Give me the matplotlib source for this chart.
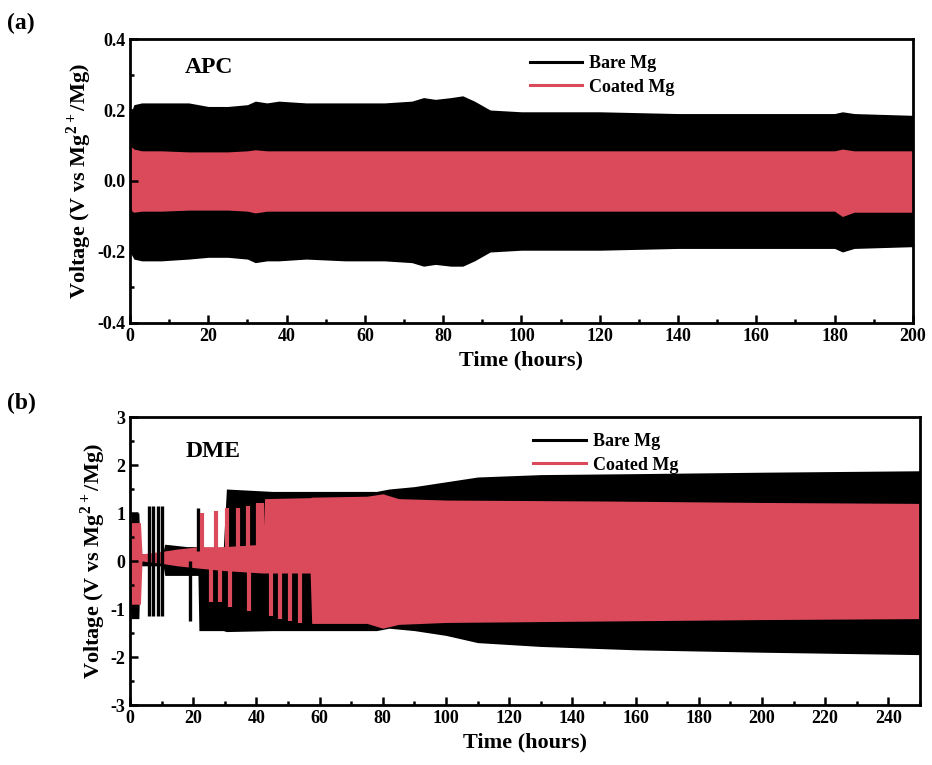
import numpy as np
import matplotlib.pyplot as plt
from matplotlib.lines import Line2D
from matplotlib.ticker import MultipleLocator, FormatStrFormatter

plt.rcParams['font.family'] = ['Liberation Serif', 'DejaVu Serif']
plt.rcParams['font.weight'] = 'bold'
plt.rcParams['mathtext.fontset'] = 'custom'
plt.rcParams['mathtext.rm'] = 'Liberation Serif:bold'
plt.rcParams['mathtext.bf'] = 'Liberation Serif:bold'
plt.rcParams['axes.unicode_minus'] = False

BLACK = '#000000'
RED = '#DB4A5B'

# (a) APC : envelopes of the cycling curves
a_t = [0, 0.5, 1, 3, 8, 15, 20, 25, 30, 32, 35, 38, 45, 55, 65, 72, 75, 78, 82, 85, 88, 92, 100, 120, 140, 160, 180, 182, 185, 200]
a_bare_hi = [0.19, 0.20, 0.215, 0.22, 0.22, 0.22, 0.21, 0.21, 0.215, 0.225, 0.22, 0.225, 0.22, 0.22, 0.22,
             0.225, 0.235, 0.23, 0.235, 0.24, 0.225, 0.20, 0.195, 0.195, 0.19, 0.19, 0.19, 0.195, 0.19, 0.185]
a_bare_lo = [-0.20, -0.21, -0.22, -0.225, -0.225, -0.22, -0.215, -0.215, -0.22, -0.23, -0.225, -0.225, -0.22, -0.225, -0.225,
             -0.23, -0.24, -0.235, -0.24, -0.24, -0.225, -0.20, -0.195, -0.195, -0.19, -0.19, -0.19, -0.20, -0.19, -0.185]
a_coat_hi = [0.125, 0.095, 0.09, 0.085, 0.085, 0.082, 0.082, 0.082, 0.085, 0.088, 0.085, 0.085, 0.085, 0.085, 0.085,
             0.085, 0.085, 0.085, 0.085, 0.085, 0.085, 0.085, 0.085, 0.085, 0.085, 0.085, 0.085, 0.09, 0.085, 0.085]
a_coat_lo = [-0.07, -0.085, -0.088, -0.085, -0.085, -0.082, -0.082, -0.082, -0.085, -0.09, -0.085, -0.085, -0.085, -0.085, -0.085,
             -0.085, -0.085, -0.085, -0.085, -0.085, -0.085, -0.085, -0.085, -0.085, -0.085, -0.085, -0.085, -0.10, -0.088, -0.088]

# (b) DME : envelopes
b_t_bare = [0, 0.3, 2.8, 3.2, 5.5, 10.5, 11, 18, 21.5, 21.8, 29.5, 30.5, 45, 60, 78, 82, 90, 100, 110, 130, 160, 200, 250]
b_bare_hi = [0.0, 1.0, 1.0, 0.15, 0.15, 0.2, 0.35, 0.3, 0.3, 0.25, 0.25, 1.5, 1.45, 1.45, 1.45, 1.5, 1.55, 1.65, 1.75, 1.8, 1.82, 1.85, 1.88]
b_bare_lo = [0.0, -1.2, -1.2, -0.1, -0.1, -0.1, -0.3, -0.3, -0.3, -1.45, -1.45, -1.47, -1.45, -1.45, -1.45,
             -1.4, -1.45, -1.55, -1.7, -1.78, -1.85, -1.9, -1.95]
b_t_coat = [0, 0.2, 3.3, 3.8, 10, 15, 22, 30, 42, 42.6, 57, 57.5, 75, 80, 85, 100, 150, 200, 250]
b_coat_hi = [0.0, 0.8, 0.8, 0.15, 0.2, 0.25, 0.3, 0.3, 0.35, 1.3, 1.32, 1.33, 1.35, 1.4, 1.3, 1.27, 1.25, 1.22, 1.2]
b_coat_lo = [0.0, -0.9, -0.9, 0.0, -0.05, -0.1, -0.15, -0.2, -0.25, -0.25, -0.25, -1.3, -1.3, -1.4, -1.32, -1.28, -1.25, -1.22, -1.2]

# isolated excursions in the first hours of (b)
bare_spike_t = [6.0, 7.2, 8.8, 10.0, 19.0, 21.6]
bare_spike_lo = [-1.15, -1.15, -1.15, -1.15, -1.25, 0.2]
bare_spike_hi = [1.15, 1.15, 1.15, 1.15, 0.0, 1.1]
coat_spike_t = [22.7, 27.2, 30.6, 34.3, 37.4, 40.6, 41.7, 25.5, 28.5, 31.6, 37.7, 44.5, 47.5, 50.5, 53.8]
coat_spike_lo = [0, 0, 0, 0, 0, 0, 0, -0.85, -0.85, -0.95, -1.05, -1.15, -1.2, -1.25, -1.3]
coat_spike_hi = [1.0, 1.05, 1.1, 1.1, 1.15, 1.2, 1.2, 0, 0, 0, 0, 0, 0, 0, 0]

fig = plt.figure(figsize=(9.32, 7.65), dpi=100)
ax1 = fig.add_axes([0.1395, 0.5778, 0.840, 0.3712])
ax2 = fig.add_axes([0.1395, 0.0784, 0.8476, 0.3765])

ax1.fill_between(a_t, a_bare_lo, a_bare_hi, color=BLACK, lw=0)
ax1.fill_between(a_t, a_coat_lo, a_coat_hi, color=RED, lw=0)

ax2.fill_between(b_t_bare, b_bare_lo, b_bare_hi, color=BLACK, lw=0)
ax2.vlines(bare_spike_t, bare_spike_lo, bare_spike_hi, color=BLACK, lw=2.4)
ax2.fill_between(b_t_coat, b_coat_lo, b_coat_hi, color=RED, lw=0)
ax2.vlines(coat_spike_t, coat_spike_lo, coat_spike_hi, color=RED, lw=3.0)

ax1.set_xlim(0, 200)
ax1.set_ylim(-0.4, 0.4)
ax1.xaxis.set_major_locator(MultipleLocator(20))
ax1.xaxis.set_minor_locator(MultipleLocator(10))
ax1.yaxis.set_major_locator(MultipleLocator(0.2))
ax1.yaxis.set_minor_locator(MultipleLocator(0.1))
ax1.yaxis.set_major_formatter(FormatStrFormatter('%.1f'))

ax2.set_xlim(0, 250)
ax2.set_ylim(-3, 3)
ax2.xaxis.set_major_locator(MultipleLocator(20))
ax2.xaxis.set_minor_locator(MultipleLocator(10))
ax2.yaxis.set_major_locator(MultipleLocator(1))
ax2.yaxis.set_minor_locator(MultipleLocator(0.5))

for ax in (ax1, ax2):
    for s in ax.spines.values():
        s.set_linewidth(2.0)
    ax.tick_params(which='both', direction='in', top=False, right=False, width=1.8, labelsize=13)
    ax.tick_params(which='major', length=6)
    ax.tick_params(which='minor', length=3)
    ax.set_xlabel('Time (hours)', fontsize=16, fontweight='bold', labelpad=4)
    ax.set_ylabel(r'Voltage (V vs Mg$^{2+}$/Mg)', fontsize=16, fontweight='bold', labelpad=2)
    for lab in ax.get_xticklabels() + ax.get_yticklabels():
        lab.set_fontweight('bold')
    handles = [Line2D([], [], color=BLACK, lw=2.2), Line2D([], [], color=RED, lw=2.2)]
    ax.legend(handles, ['Bare Mg', 'Coated Mg'], loc='upper left', bbox_to_anchor=(0.49, 1.0),
              frameon=False, handlelength=2.9, handletextpad=0.4, labelspacing=0.35,
              prop={'weight': 'bold', 'size': 13})

ax1.text(0.07, 0.88, 'APC', transform=ax1.transAxes, fontsize=17, fontweight='bold')
ax2.text(0.07, 0.86, 'DME', transform=ax2.transAxes, fontsize=17, fontweight='bold')
fig.text(0.008, 0.962, '(a)', fontsize=17, fontweight='bold')
fig.text(0.008, 0.465, '(b)', fontsize=17, fontweight='bold')

fig.savefig('out.png', dpi=100)
